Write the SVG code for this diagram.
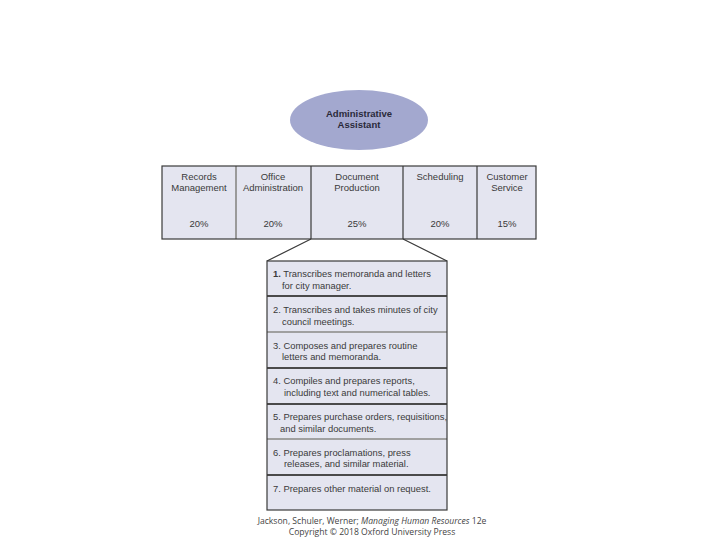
<svg xmlns="http://www.w3.org/2000/svg" width="720" height="540" viewBox="0 0 720 540">
<style>
text{font-family:"Liberation Sans",Arial,sans-serif;fill:#3a3a3a;font-size:9.5px}
.c{text-anchor:middle}
.b{font-weight:bold;fill:#2a2a3a}
.li{font-size:9.4px}
.cell{fill:#e4e5f0}
.dl{stroke:#3a3a3a;stroke-width:1.2;fill:none}
.gl{stroke:#9a9a9a;stroke-width:2;fill:none}
.sep{stroke:#4a4a4a;stroke-width:2}
.sepg{stroke:#a0a0a0;stroke-width:2}
.ft{font-family:"Open Sans","DejaVu Sans",sans-serif;font-size:8.6px;fill:#444}
</style>
<rect width="720" height="540" fill="#fff"/>
<g id="root">
<ellipse cx="359" cy="120" rx="69" ry="30" fill="#a3a8cf"/>
<text class="c b" x="359" y="117">Administrative</text>
<text class="c b" x="359" y="128">Assistant</text>
</g>
<g id="table">
<rect class="cell" x="162" y="166" width="374" height="73"/>
<g id="records"><text class="c" x="199" y="180">Records</text><text class="c" x="199" y="191">Management</text><text class="c" x="199" y="227">20%</text></g>
<g id="office"><text class="c" x="273" y="180">Office</text><text class="c" x="273" y="191">Administration</text><text class="c" x="273" y="227">20%</text></g>
<g id="document"><text class="c" x="357" y="180">Document</text><text class="c" x="357" y="191">Production</text><text class="c" x="357" y="227">25%</text></g>
<g id="scheduling"><text class="c" x="440" y="180">Scheduling</text><text class="c" x="440" y="227">20%</text></g>
<g id="customer"><text class="c" x="507" y="180">Customer</text><text class="c" x="507" y="191">Service</text><text class="c" x="507" y="227">15%</text></g>
<path class="gl" d="M236 166V239"/>
<path class="dl" d="M311 166V239M403 166V239M477 166V239"/>
<rect class="dl" x="162" y="166" width="374" height="73"/>
</g>
<g id="connectors">
<path class="dl" d="M311 239L267 261M403 239L447 261"/>
</g>
<g id="tasks">
<rect class="cell" x="267" y="261" width="180" height="249"/>
<path class="sep" d="M267 296H447"/>
<path class="sepg" d="M267 332H447"/>
<path class="sep" d="M267 368H447"/>
<path class="sep" d="M267 404H447"/>
<path class="sepg" d="M267 439H447"/>
<path class="sep" d="M267 475H447"/>
<rect class="dl" x="267" y="261" width="180" height="249"/>
<g id="t1"><text class="li" x="273" y="277"><tspan font-weight="bold">1.</tspan> Transcribes memoranda and letters</text><text class="li" x="282" y="289">for city manager.</text></g>
<g id="t2"><text class="li" x="273" y="313">2. Transcribes and takes minutes of city</text><text class="li" x="282" y="325">council meetings.</text></g>
<g id="t3"><text class="li" x="273" y="349">3. Composes and prepares routine</text><text class="li" x="282" y="360">letters and memoranda.</text></g>
<g id="t4"><text class="li" x="273" y="384">4. Compiles and prepares reports,</text><text class="li" x="284" y="396">including text and numerical tables.</text></g>
<g id="t5"><text class="li" x="273" y="420">5. Prepares purchase orders, requisitions,</text><text class="li" x="280" y="432">and similar documents.</text></g>
<g id="t6"><text class="li" x="273" y="456">6. Prepares proclamations, press</text><text class="li" x="284" y="467">releases, and similar material.</text></g>
<g id="t7"><text class="li" x="273" y="492">7. Prepares other material on request.</text></g>
</g>
<g id="footer">
<text class="ft c" x="372" y="524">Jackson, Schuler, Werner; <tspan font-style="italic">Managing Human Resources</tspan> 12e</text>
<text class="ft c" x="372" y="535">Copyright © 2018 Oxford University Press</text>
</g>
</svg>
